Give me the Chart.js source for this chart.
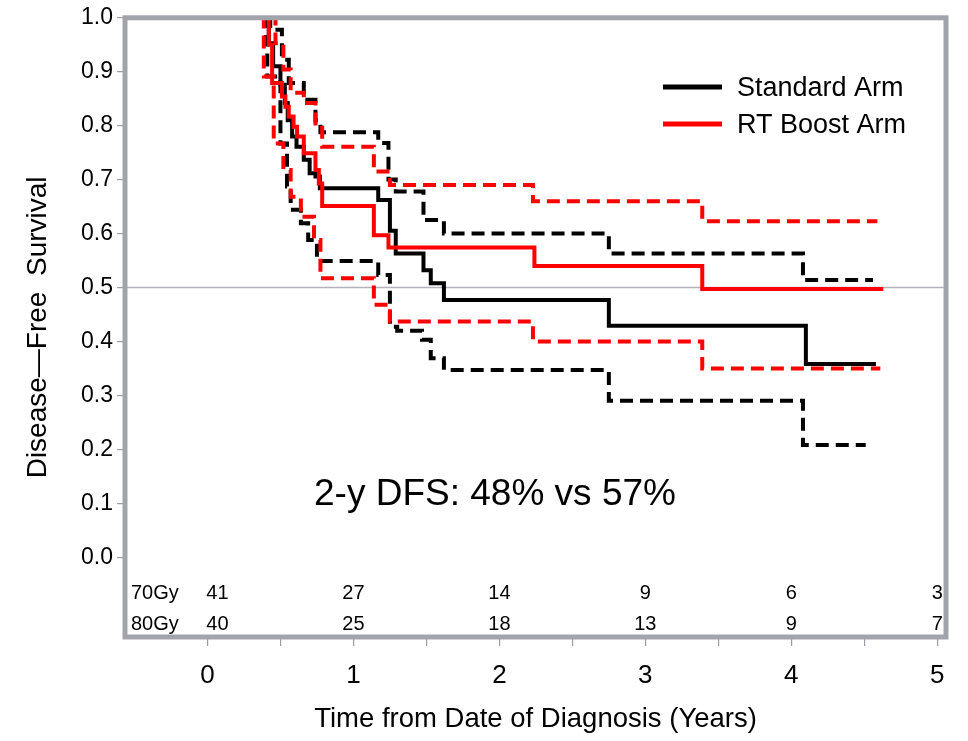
<!DOCTYPE html>
<html>
<head>
<meta charset="utf-8">
<script src="https://cdn.jsdelivr.net/npm/chart.js@4.4.1/dist/chart.umd.min.js"></script>
<style>
  html, body { margin: 0; padding: 0; background: #fff; overflow: hidden; }
  canvas { display: block; }
</style>
</head>
<body>
<canvas id="kmChart" width="968" height="741"></canvas>
<script>
// Kaplan-Meier disease-free survival
// (time in years, survival after each step)

const stdTime = [0, 0.42, 0.45, 0.50, 0.53, 0.55, 0.58, 0.61, 0.66, 0.70, 0.74, 0.77, 1.17, 1.25, 1.29, 1.48, 1.53, 1.62, 2.75, 4.10, 4.58];
const stdSurv = [1.0, 0.953, 0.91, 0.876, 0.842, 0.81, 0.78, 0.761, 0.737, 0.712, 0.706, 0.684, 0.662, 0.605, 0.563, 0.532, 0.508, 0.477, 0.429, 0.358, 0.358];

const stdUpperTime = [0.41, 0.43, 0.51, 0.557, 0.66, 0.74, 0.774, 1.17, 1.24, 1.29, 1.48, 1.62, 2.75, 4.08, 4.56];
const stdUpperSurv = [1.0, 0.978, 0.922, 0.879, 0.848, 0.81, 0.788, 0.768, 0.70, 0.678, 0.625, 0.60, 0.563, 0.514, 0.514];

const stdLowerTime = [0.38, 0.40, 0.41, 0.50, 0.545, 0.57, 0.64, 0.69, 0.75, 1.17, 1.25, 1.30, 1.47, 1.53, 1.62, 2.75, 4.08, 4.51];
const stdLowerSurv = [1.0, 0.953, 0.891, 0.767, 0.687, 0.644, 0.619, 0.588, 0.549, 0.523, 0.427, 0.42, 0.403, 0.369, 0.347, 0.290, 0.208, 0.208];

const boostTime = [0, 0.42, 0.443, 0.51, 0.534, 0.557, 0.59, 0.614, 0.66, 0.74, 0.763, 0.786, 1.14, 1.24, 2.24, 3.39, 4.63];
const boostSurv = [1.0, 0.95, 0.879, 0.854, 0.835, 0.817, 0.798, 0.78, 0.749, 0.718, 0.693, 0.651, 0.597, 0.574, 0.540, 0.497, 0.497];

const boostUpperTime = [0.43, 0.466, 0.52, 0.57, 0.66, 0.74, 0.786, 1.14, 1.25, 2.23, 3.39, 4.59];
const boostUpperSurv = [1.0, 0.953, 0.904, 0.861, 0.842, 0.804, 0.761, 0.715, 0.690, 0.660, 0.623, 0.623];

const boostLowerTime = [0.37, 0.386, 0.454, 0.52, 0.57, 0.64, 0.73, 0.774, 1.14, 1.25, 2.23, 3.39, 4.61];
const boostLowerSurv = [1.0, 0.891, 0.767, 0.718, 0.668, 0.631, 0.588, 0.517, 0.468, 0.437, 0.400, 0.350, 0.350];

// numbers at risk
const riskTimes = [0, 1, 2, 3, 4, 5];
const riskGroups = ['70Gy', '80Gy'];
const riskStandard = [41, 27, 14, 9, 6, 3];
const riskBoost = [40, 25, 18, 13, 9, 7];

const yTicks = [0, 0.1, 0.2, 0.3, 0.4, 0.5, 0.6, 0.7, 0.8, 0.9, 1.0];
const xTicks = [0, 0.5, 1, 1.5, 2, 2.5, 3, 3.5, 4, 4.5, 5];
const legendLabels = ['Standard Arm', 'RT Boost Arm'];
const noteText = '2-y DFS: 48% vs 57%';

const FONT = "'Liberation Sans', Arial, Helvetica, sans-serif";
const BLACK = '#000000';
const RED = '#ff0000';
const FRAME = '#a1a5ab';

function toPoints(xs, ys) {
    return xs.map((x, i) => ({ x: x, y: ys[i] }));
}

function stepLine(xs, ys, color, dashed) {
    return {
        data: toPoints(xs, ys),
        borderColor: color,
        backgroundColor: color,
        borderWidth: 4,
        borderDash: dashed ? [13, 7] : [],
        stepped: 'before',
        showLine: true,
        pointRadius: 0,
        fill: false
    };
}

// first datasets are drawn on top, so red goes first
const datasets = [
    stepLine(boostTime, boostSurv, RED, false),
    stepLine(boostUpperTime, boostUpperSurv, RED, true),
    stepLine(boostLowerTime, boostLowerSurv, RED, true),
    stepLine(stdTime, stdSurv, BLACK, false),
    stepLine(stdUpperTime, stdUpperSurv, BLACK, true),
    stepLine(stdLowerTime, stdLowerSurv, BLACK, true),
    {
        // median reference line
        data: [{ x: -1, y: 0.5 }, { x: 6, y: 0.5 }],
        borderColor: '#b2b3bb',
        borderWidth: 1.5,
        showLine: true,
        pointRadius: 0
    }
];

// frame, legend, annotation and the at-risk table
const extrasPlugin = {
    id: 'kmExtras',
    afterDatasetsDraw(chart) {
        const { ctx, chartArea: a, scales: { x, y } } = chart;
        ctx.save();

        ctx.strokeStyle = FRAME;
        ctx.lineWidth = 5;
        ctx.strokeRect(a.left, a.top, a.right - a.left, a.bottom - a.top);

        // legend
        const legendColors = [BLACK, RED];
        ctx.font = '27px ' + FONT;
        ctx.textBaseline = 'middle';
        ctx.textAlign = 'left';
        legendLabels.forEach((label, i) => {
            const ly = 87 + i * 37;
            ctx.strokeStyle = legendColors[i];
            ctx.lineWidth = 5;
            ctx.beginPath();
            ctx.moveTo(663, ly);
            ctx.lineTo(722, ly);
            ctx.stroke();
            ctx.fillStyle = '#000';
            ctx.fillText(label, 737, ly + 2);
        });

        ctx.font = '37px ' + FONT;
        ctx.textAlign = 'center';
        ctx.fillText(noteText, x.getPixelForValue(1.97), y.getPixelForValue(0.115));

        // numbers at risk
        ctx.font = '20px ' + FONT;
        const rows = [riskStandard, riskBoost];
        rows.forEach((row, r) => {
            const ry = y.getPixelForValue(-0.068 - r * 0.056);
            ctx.textAlign = 'left';
            ctx.fillText(riskGroups[r], a.left + 6, ry);
            ctx.textAlign = 'center';
            row.forEach((n, i) => {
                const off = riskTimes[i] === 0 ? 10 : 0;
                ctx.fillText(String(n), x.getPixelForValue(riskTimes[i]) + off, ry);
            });
        });

        ctx.restore();
    }
};

const ctx = document.getElementById('kmChart').getContext('2d');
new Chart(ctx, {
    type: 'scatter',
    data: { datasets: datasets },
    options: {
        responsive: false,
        animation: false,
        layout: { padding: { top: 17, right: 22, left: 0, bottom: 0 } },
        plugins: {
            legend: { display: false },
            tooltip: { enabled: false }
        },
        scales: {
            x: {
                type: 'linear',
                min: -0.565,
                max: 5.06,
                afterBuildTicks: axis => { axis.ticks = xTicks.map(v => ({ value: v })); },
                afterFit: axis => { axis.height = 104; },
                ticks: {
                    autoSkip: false,
                    maxRotation: 0,
                    padding: 14,
                    color: '#000',
                    font: { family: FONT, size: 26 },
                    callback: v => (Number.isInteger(v) ? String(v) : '')
                },
                grid: { drawOnChartArea: false, tickLength: 9, color: '#9a9ea4', lineWidth: 1.2 },
                border: { display: false },
                title: {
                    display: true,
                    text: 'Time from Date of Diagnosis (Years)',
                    color: '#000',
                    font: { family: FONT, size: 27.5 },
                    padding: { top: 0, bottom: 5 }
                }
            },
            y: {
                type: 'linear',
                min: -0.148,
                max: 1.0,
                afterBuildTicks: axis => { axis.ticks = yTicks.map(v => ({ value: v })); },
                afterFit: axis => { axis.width = 125; },
                ticks: {
                    autoSkip: false,
                    padding: 4,
                    color: '#000',
                    font: { family: FONT, size: 23 },
                    callback: v => v.toFixed(1)
                },
                grid: { drawOnChartArea: false, tickLength: 8, color: '#9a9ea4', lineWidth: 1.2 },
                border: { display: false },
                title: {
                    display: true,
                    text: 'Disease\u2014Free  Survival',
                    color: '#000',
                    font: { family: FONT, size: 28 },
                    padding: { top: 21, bottom: 0 }
                }
            }
        }
    },
    plugins: [extrasPlugin]
});
</script>
</body>
</html>
